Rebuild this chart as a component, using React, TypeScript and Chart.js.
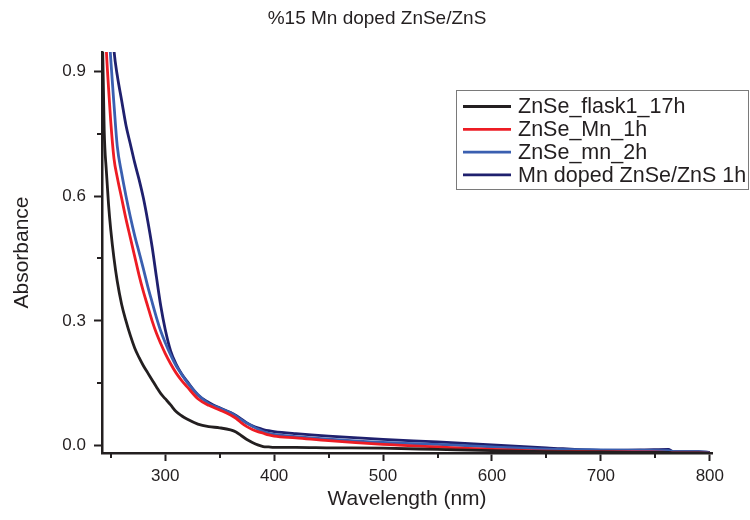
import React, { useEffect, useRef } from "react";
import { Chart, registerables } from "chart.js";

Chart.register(...registerables);

const chartTitle = "%15 Mn doped ZnSe/ZnS";
const xAxisTitle = "Wavelength (nm)";
const yAxisTitle = "Absorbance";

const wavelengths = [
  242, 244, 246, 248, 250, 253, 256, 260, 264, 268, 272, 276, 280, 284, 288, 292, 296, 300,
  305, 310, 315, 320, 330, 340, 350, 360, 365, 370, 375, 380, 385, 390, 395, 400, 420, 450,
  500, 550, 600, 650, 700, 740, 762, 766, 790, 800,
];

const flask17h = [
  1.05, 0.76, 0.66, 0.58, 0.52, 0.45, 0.395, 0.34, 0.3, 0.265, 0.235, 0.212, 0.192, 0.175, 0.158,
  0.141, 0.125, 0.113, 0.098, 0.082, 0.072, 0.064, 0.052, 0.046, 0.043, 0.038, 0.033, 0.024, 0.015,
  0.008, 0.002, -0.002, -0.003, -0.004, -0.004, -0.005, -0.006, -0.009, -0.012, -0.014, -0.015,
  -0.016, -0.016, -0.017, -0.017, -0.018,
];

const mn1h = [
  1.25, 1.08, 0.95, 0.86, 0.78, 0.69, 0.645, 0.595, 0.545, 0.5, 0.455, 0.41, 0.37, 0.335, 0.3,
  0.27, 0.245, 0.222, 0.197, 0.175, 0.157, 0.142, 0.113, 0.097, 0.086, 0.074, 0.066, 0.055, 0.046,
  0.039, 0.034, 0.03, 0.026, 0.023, 0.019, 0.012, 0.003, -0.003, -0.009, -0.013, -0.014, -0.015,
  -0.016, -0.017, -0.017, -0.018,
];

const mn2h = [
  1.45, 1.28, 1.14, 1.02, 0.93, 0.82, 0.72, 0.655, 0.6, 0.55, 0.505, 0.465, 0.425, 0.383, 0.345,
  0.308, 0.275, 0.248, 0.218, 0.192, 0.172, 0.153, 0.123, 0.101, 0.09, 0.079, 0.071, 0.062, 0.054,
  0.047, 0.04, 0.034, 0.03, 0.027, 0.022, 0.016, 0.008, 0.003, -0.003, -0.008, -0.01, -0.011,
  -0.012, -0.014, -0.015, -0.016,
];

const znsShell1h = [
  1.6, 1.45, 1.3, 1.18, 1.07, 0.95, 0.89, 0.83, 0.77, 0.725, 0.68, 0.64, 0.595, 0.54, 0.478, 0.405,
  0.335, 0.28, 0.228, 0.196, 0.173, 0.155, 0.122, 0.104, 0.091, 0.08, 0.073, 0.064, 0.055, 0.048,
  0.043, 0.039, 0.036, 0.034, 0.029, 0.023, 0.015, 0.009, 0.002, -0.005, -0.011, -0.01, -0.009,
  -0.014, -0.014, -0.016,
];

const seriesNames = ["ZnSe_flask1_17h", "ZnSe_Mn_1h", "ZnSe_mn_2h", "Mn doped ZnSe/ZnS 1h"];
const seriesValues = [flask17h, mn1h, mn2h, znsShell1h];
const seriesColors = ["#231f20", "#ed1c24", "#3a5fb0", "#1f206e"];

const xMajorTicks = [300, 400, 500, 600, 700, 800];
const xMinorTicks = [250, 350, 450, 550, 650, 750];
const yMajorTicks = [0.0, 0.3, 0.6, 0.9];
const yMinorTicks = [0.15, 0.45, 0.75];

const INK = "#231f20";
const FONT = "'Liberation Sans', Arial, Helvetica, sans-serif";

const minorTicksPlugin = {
  id: "minorTicks",
  afterDraw(chart: any) {
    const { ctx, chartArea, scales } = chart;
    ctx.save();
    ctx.strokeStyle = INK;
    ctx.lineWidth = 2;
    ctx.beginPath();
    xMinorTicks.forEach((v) => {
      const px = Math.round(scales.x.getPixelForValue(v));
      ctx.moveTo(px, chartArea.bottom);
      ctx.lineTo(px, chartArea.bottom + 5);
    });
    yMinorTicks.forEach((v) => {
      const py = Math.round(scales.y.getPixelForValue(v));
      ctx.moveTo(chartArea.left - 5, py);
      ctx.lineTo(chartArea.left, py);
    });
    ctx.stroke();
    ctx.restore();
  },
};

const titlePlugin = {
  id: "pageTitle",
  afterDraw(chart: any) {
    const { ctx } = chart;
    ctx.save();
    ctx.font = `19px ${FONT}`;
    ctx.fillStyle = INK;
    ctx.textAlign = "center";
    ctx.textBaseline = "middle";
    ctx.fillText(chartTitle, 377, 18.5);
    ctx.restore();
  },
};

const insetLegendPlugin = {
  id: "insetLegend",
  afterDraw(chart: any) {
    const { ctx } = chart;
    const left = 456;
    const top = 90;
    const width = 292;
    const height = 99;
    const rowTop = 106.5;
    const rowGap = 22.8;
    ctx.save();
    ctx.fillStyle = "#ffffff";
    ctx.fillRect(left, top, width, height);
    ctx.strokeStyle = "#7a7a7a";
    ctx.lineWidth = 1;
    ctx.strokeRect(left + 0.5, top + 0.5, width, height);
    ctx.font = `21.5px ${FONT}`;
    ctx.textBaseline = "middle";
    ctx.textAlign = "left";
    chart.data.datasets.forEach((ds: any, i: number) => {
      const y = rowTop + i * rowGap;
      ctx.strokeStyle = ds.borderColor;
      ctx.lineWidth = 2.8;
      ctx.beginPath();
      ctx.moveTo(463, y);
      ctx.lineTo(511, y);
      ctx.stroke();
      ctx.fillStyle = INK;
      ctx.fillText(ds.label, 518, y + 1);
    });
    ctx.restore();
  },
};

export default function App() {
  const canvasRef = useRef<HTMLCanvasElement | null>(null);

  useEffect(() => {
    if (!canvasRef.current) return;
    const datasets = seriesNames.map((name, i) => ({
      label: name,
      data: wavelengths.map((w, j) => ({ x: w, y: seriesValues[i][j] })),
      borderColor: seriesColors[i],
      backgroundColor: seriesColors[i],
      borderWidth: 2.8,
      pointRadius: 0,
      cubicInterpolationMode: "monotone" as const,
      fill: false,
    }));

    const chart = new Chart(canvasRef.current, {
      type: "line",
      data: { datasets },
      options: {
        animation: false,
        responsive: false,
        devicePixelRatio: 1,
        layout: { padding: { left: 0, right: 38, top: 52, bottom: 0 } },
        plugins: {
          legend: { display: false },
          tooltip: { enabled: false },
          title: { display: false },
        },
        scales: {
          x: {
            type: "linear",
            min: 242,
            max: 802,
            afterBuildTicks: (scale: any) => {
              scale.ticks = xMajorTicks.map((v) => ({ value: v }));
            },
            afterFit: (scale: any) => {
              scale.height = 67;
            },
            grid: {
              drawOnChartArea: false,
              drawTicks: true,
              tickLength: 8,
              tickWidth: 2,
              tickColor: INK,
            },
            border: { display: true, color: INK, width: 2.5 },
            ticks: {
              color: INK,
              font: { family: FONT, size: 17 },
              padding: 5,
              maxRotation: 0,
              callback: (v: any) => String(v),
            },
            title: {
              display: true,
              text: xAxisTitle,
              color: INK,
              font: { family: FONT, size: 21 },
              padding: { top: 0, bottom: 8 },
            },
          },
          y: {
            type: "linear",
            min: -0.0175,
            max: 0.946,
            afterBuildTicks: (scale: any) => {
              scale.ticks = yMajorTicks.map((v) => ({ value: v }));
            },
            afterFit: (scale: any) => {
              scale.width = 102;
            },
            grid: {
              drawOnChartArea: false,
              drawTicks: true,
              tickLength: 8,
              tickWidth: 2,
              tickColor: INK,
            },
            border: { display: true, color: INK, width: 2.5 },
            ticks: {
              color: INK,
              font: { family: FONT, size: 17 },
              padding: 8,
              callback: (v: any) => Number(v).toFixed(1),
            },
            title: {
              display: true,
              text: yAxisTitle,
              color: INK,
              font: { family: FONT, size: 21 },
              padding: { top: 10, bottom: 0 },
            },
          },
        },
      },
      plugins: [minorTicksPlugin, titlePlugin, insetLegendPlugin],
    });
    return () => chart.destroy();
  }, []);

  return (
    <div style={{ position: "absolute", left: 0, top: 0, width: 750, height: 520, background: "#ffffff" }}>
      <canvas ref={canvasRef} width={750} height={520} />
    </div>
  );
}
